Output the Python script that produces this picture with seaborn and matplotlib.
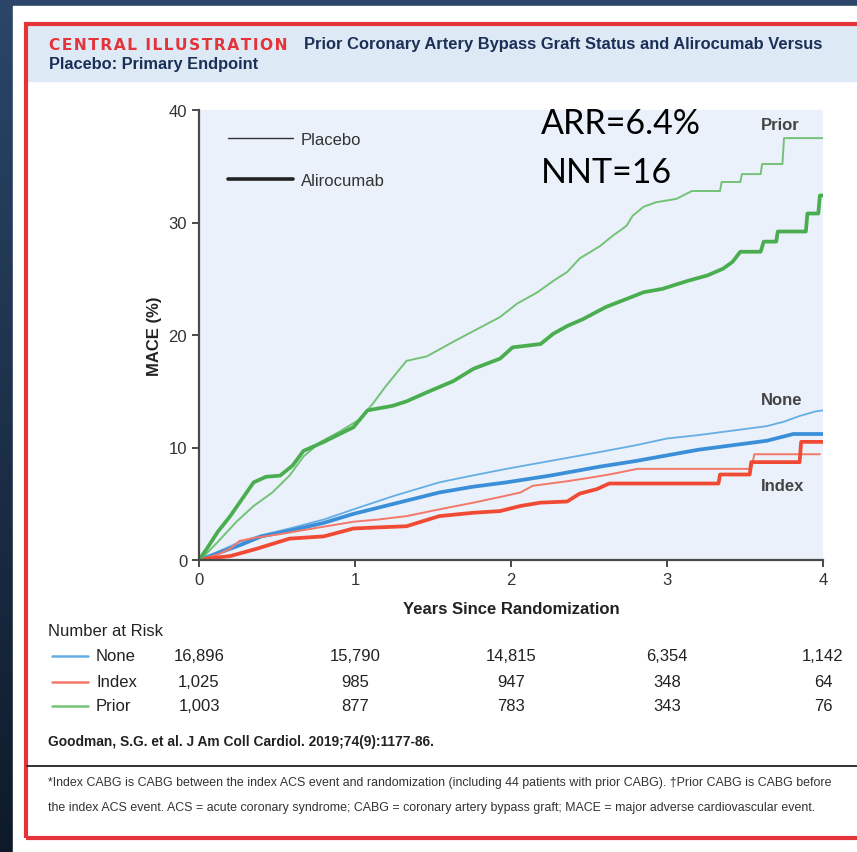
import numpy as np
import matplotlib
matplotlib.use("Agg")
import matplotlib.pyplot as plt
import matplotlib.patches as mpatches
from matplotlib.lines import Line2D
from matplotlib.transforms import blended_transform_factory
import seaborn as sns

# ---------- data ----------
prior_placebo_x = [0, 0.05, 0.12, 0.24, 0.35, 0.47, 0.58, 0.67, 0.78, 0.9, 1.03, 1.12, 1.2, 1.33, 1.46,
                   1.63, 1.78, 1.93, 2.04, 2.17, 2.27, 2.36, 2.44, 2.57, 2.65, 2.74, 2.78, 2.85, 2.93,
                   3.06, 3.16, 3.34, 3.35, 3.47, 3.48, 3.60, 3.61, 3.74, 3.75, 4.0]
prior_placebo_y = [0, 0.6, 1.6, 3.4, 4.8, 6.0, 7.5, 9.2, 10.5, 11.4, 12.5, 14.0, 15.5, 17.7, 18.1,
                   19.4, 20.5, 21.6, 22.8, 23.8, 24.8, 25.6, 26.8, 27.9, 28.8, 29.7, 30.6, 31.4, 31.8,
                   32.1, 32.8, 32.8, 33.6, 33.6, 34.3, 34.3, 35.2, 35.2, 37.5, 37.5]
prior_aliro_x = [0, 0.05, 0.12, 0.2, 0.26, 0.35, 0.43, 0.52, 0.6, 0.67, 0.8, 0.99, 1.08, 1.24, 1.33,
                 1.46, 1.63, 1.76, 1.93, 2.01, 2.19, 2.27, 2.36, 2.46, 2.61, 2.74, 2.85, 2.97, 3.13,
                 3.26, 3.36, 3.42, 3.47, 3.60, 3.62, 3.70, 3.71, 3.89, 3.90, 3.97, 3.98, 4.0]
prior_aliro_y = [0, 1.0, 2.5, 3.9, 5.1, 6.9, 7.4, 7.5, 8.4, 9.7, 10.5, 11.8, 13.3, 13.7, 14.1,
                 14.9, 15.9, 17.0, 17.9, 18.9, 19.2, 20.1, 20.8, 21.4, 22.5, 23.2, 23.8, 24.1, 24.8,
                 25.3, 25.9, 26.5, 27.4, 27.4, 28.3, 28.3, 29.2, 29.2, 30.8, 30.8, 32.4, 32.4]

none_placebo_x = [0, 0.1, 0.26, 0.4, 0.58, 0.8, 0.99, 1.25, 1.54, 1.75, 1.97, 2.25, 2.57, 2.8, 3.0,
                  3.2, 3.42, 3.64, 3.75, 3.85, 3.95, 4.0]
none_placebo_y = [0, 0.6, 1.6, 2.2, 2.8, 3.6, 4.5, 5.7, 6.9, 7.5, 8.1, 8.8, 9.6, 10.2, 10.8,
                  11.1, 11.5, 11.9, 12.3, 12.8, 13.2, 13.3]
none_aliro_x = [0, 0.1, 0.26, 0.4, 0.58, 0.8, 0.99, 1.25, 1.54, 1.75, 1.97, 2.25, 2.57, 2.8, 3.0,
                3.2, 3.42, 3.64, 3.81, 3.9, 4.0]
none_aliro_y = [0, 0.5, 1.3, 2.1, 2.6, 3.3, 4.1, 5.0, 6.0, 6.5, 6.9, 7.5, 8.3, 8.8, 9.3,
                9.8, 10.2, 10.6, 11.2, 11.2, 11.2]

index_placebo_x = [0, 0.12, 0.2, 0.26, 0.37, 0.52, 0.73, 0.99, 1.15, 1.33, 1.54, 1.76, 1.93, 2.06,
                   2.14, 2.36, 2.5, 2.63, 2.81, 3.54, 3.56, 3.98]
index_placebo_y = [0, 0.5, 1.0, 1.7, 2.0, 2.3, 2.8, 3.4, 3.6, 3.9, 4.5, 5.1, 5.6, 6.0,
                   6.6, 7.0, 7.3, 7.6, 8.1, 8.1, 9.4, 9.4]
index_aliro_x = [0, 0.1, 0.2, 0.37, 0.58, 0.8, 0.99, 1.15, 1.33, 1.54, 1.76, 1.93, 2.06, 2.19, 2.36,
                 2.44, 2.55, 2.63, 3.33, 3.34, 3.53, 3.54, 3.85, 3.86, 4.0]
index_aliro_y = [0, 0.2, 0.35, 1.0, 1.9, 2.1, 2.8, 2.9, 3.0, 3.9, 4.2, 4.35, 4.8, 5.1, 5.2,
                 5.9, 6.3, 6.8, 6.8, 7.6, 7.6, 8.7, 8.7, 10.5, 10.5]

risk_groups = ["None", "Index", "Prior"]
risk_years = [0, 1, 2, 3, 4]
risk_none = ["16,896", "15,790", "14,815", "6,354", "1,142"]
risk_index = ["1,025", "985", "947", "348", "64"]
risk_prior = ["1,003", "877", "783", "343", "76"]

GREEN, GREEN_L = "#4aae50", "#74c277"
BLUE, BLUE_L = "#3a8fd8", "#64aee6"
RED, RED_L = "#f04a34", "#f4786a"

W, H = 857, 853
NARROW = ["Liberation Sans", "DejaVu Sans"]

sns.set_style("ticks")
plt.rcParams["font.family"] = NARROW

fig = plt.figure(figsize=(W / 100, H / 100), dpi=100)


def fx(px):
    return px / W


def fy(py):
    return 1 - py / H


# ---------- background frame ----------
bg = fig.add_axes([0, 0, 1, 1], zorder=-10)
grad = np.linspace(0, 1, 256).reshape(-1, 1)
cmap = matplotlib.colors.LinearSegmentedColormap.from_list("bg", ["#2b4669", "#0e1a2a"])
bg.imshow(grad, cmap=cmap, aspect="auto", extent=[0, 1, 0, 1])
bg.set_axis_off()
bg.add_patch(mpatches.Rectangle((fx(13), 0), 1, fy(7), color="white", transform=bg.transAxes))
bg.add_patch(mpatches.Rectangle((fx(27), fy(82)), 1, fy(26) - fy(82), color="#dde9f5",
                                transform=bg.transAxes))
bg.add_patch(mpatches.Rectangle((fx(25.5), fy(838.5)), 1, fy(24.5) - fy(838.5), fill=False,
                                edgecolor="#e3343a", lw=3, transform=bg.transAxes))
bg.plot([fx(27), 1], [fy(767), fy(767)], color="#222222", lw=1.3, transform=bg.transAxes)
bg.set_xlim(0, 1)
bg.set_ylim(0, 1)

# ---------- title ----------
fig.text(fx(49), fy(45), "\u200a".join("CENTRAL ILLUSTRATION"), color="#e3343a", fontsize=11.2,
         fontweight="bold", family="DejaVu Sans", va="center")
fig.text(fx(304), fy(45), "Prior Coronary Artery Bypass Graft Status and Alirocumab Versus",
         color="#1b2f57", fontsize=11.9, fontweight="bold", va="center")
fig.text(fx(49), fy(65), "Placebo: Primary Endpoint", color="#1b2f57", fontsize=11.8,
         fontweight="bold", va="center")

# ---------- main plot ----------
ax = fig.add_axes([fx(199), fy(561), fx(823) - fx(199), fy(111) - fy(561)])
ax.set_facecolor("#eaf1fa")

series = [
    (none_placebo_x, none_placebo_y, BLUE_L, 1.3),
    (none_aliro_x, none_aliro_y, BLUE, 2.7),
    (index_placebo_x, index_placebo_y, RED_L, 1.4),
    (index_aliro_x, index_aliro_y, RED, 2.7),
    (prior_placebo_x, prior_placebo_y, GREEN_L, 1.4),
    (prior_aliro_x, prior_aliro_y, GREEN, 2.7),
]
for xs, ys, col, lw in series:
    sns.lineplot(x=xs, y=ys, ax=ax, color=col, lw=lw, estimator=None, sort=False)

ax.set_xlim(0, 4)
ax.set_ylim(0, 40)
ax.set_xticks([0, 1, 2, 3, 4])
ax.set_yticks([0, 10, 20, 30, 40])
for s in ["top", "right"]:
    ax.spines[s].set_visible(False)
for s in ["left", "bottom"]:
    ax.spines[s].set_color("#4a4a4a")
    ax.spines[s].set_linewidth(1.6)
ax.tick_params(axis="both", direction="out", length=5, width=1.4, color="#4a4a4a",
               labelsize=12, labelcolor="#333333")
ax.set_xlabel("Years Since Randomization", fontsize=12, fontweight="bold", color="#222222",
              labelpad=10)
ax.set_ylabel("MACE (%)", fontsize=12, fontweight="bold", color="#222222", labelpad=5)

handles = [Line2D([], [], color="#333333", lw=1.0), Line2D([], [], color="#222222", lw=2.6)]
ax.legend(handles, ["Placebo", "Alirocumab"], loc="upper left", bbox_to_anchor=(0.022, 0.985),
          frameon=False, handlelength=3.9, handletextpad=0.5, labelspacing=1.55, fontsize=12,
          labelcolor="#333333")

ax.text(3.6, 38.7, "Prior", fontsize=12, fontweight="bold", color="#444444", va="center")
ax.text(3.6, 14.3, "None", fontsize=12, fontweight="bold", color="#444444", va="center")
ax.text(3.6, 6.6, "Index", fontsize=12, fontweight="bold", color="#444444", va="center")
ax.text(2.19, 38.8, "ARR=6.4%", fontsize=24.5, family=["Lato", "DejaVu Sans"], color="black",
        va="center")
ax.text(2.19, 34.5, "NNT=16", fontsize=24.5, family=["Lato", "DejaVu Sans"], color="black",
        va="center")

# ---------- number at risk ----------
fig.text(fx(48), fy(632), "Number at Risk", fontsize=12, color="#222222", va="center")
tr = blended_transform_factory(ax.transData, fig.transFigure)
row_y = [657, 683, 707]
row_cols = [BLUE_L, RED_L, GREEN_L]
for grp, vals, py, col in zip(risk_groups, [risk_none, risk_index, risk_prior], row_y, row_cols):
    bg.plot([fx(52), fx(88)], [fy(py), fy(py)], color=col, lw=1.8, transform=bg.transAxes)
    fig.text(fx(96), fy(py), grp, fontsize=12, color="#222222", va="center")
    for yr, v in zip(risk_years, vals):
        ax.text(yr, fy(py), v, transform=tr, fontsize=12, color="#222222", ha="center",
                va="center", clip_on=False)

fig.text(fx(48), fy(742), "Goodman, S.G. et al. J Am Coll Cardiol. 2019;74(9):1177-86.",
         fontsize=9.9, fontweight="bold", color="#222222", va="center")

fig.text(fx(48), fy(783),
         "*Index CABG is CABG between the index ACS event and randomization (including 44 patients "
         "with prior CABG). \u2020Prior CABG is CABG before",
         fontsize=8.9, color="#333333", va="center")
fig.text(fx(48), fy(808),
         "the index ACS event. ACS = acute coronary syndrome; CABG = coronary artery bypass graft; "
         "MACE = major adverse cardiovascular event.",
         fontsize=8.9, color="#333333", va="center")

fig.savefig("out.png", dpi=100)
